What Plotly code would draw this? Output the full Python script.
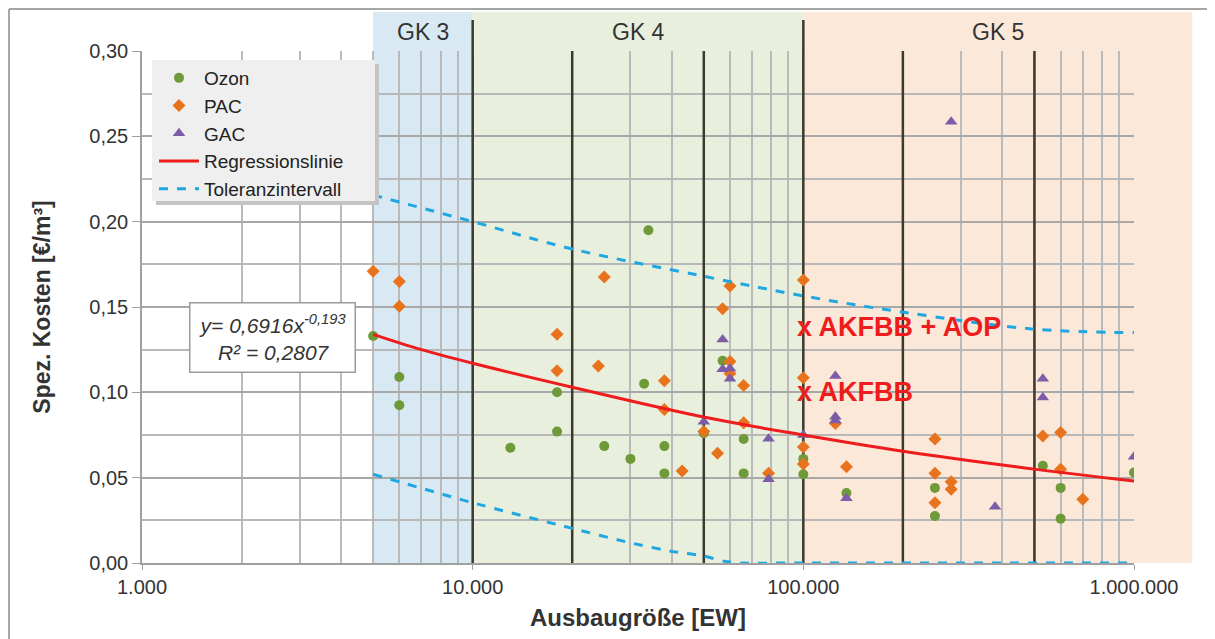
import numpy as np
import plotly.graph_objects as go

# ---------------- data ----------------
ozon_x = [5000, 6000, 6000, 13000, 18000, 18000, 25000, 30000, 33000, 34000, 38000, 38000,
          50000, 57000, 66000, 66000, 100000, 100000, 135000, 250000, 250000, 530000,
          600000, 600000, 1000000]
ozon_y = [0.133, 0.109, 0.0925, 0.0675, 0.100, 0.077, 0.0685, 0.061, 0.105, 0.195, 0.0685, 0.0525,
          0.076, 0.1185, 0.0727, 0.0525, 0.061, 0.052, 0.041, 0.044, 0.0275, 0.057,
          0.044, 0.026, 0.053]

pac_x = [5000, 6000, 6000, 18000, 18000, 24000, 25000, 38000, 38000, 43000, 50000, 55000,
         57000, 60000, 60000, 60000, 66000, 66000, 78500, 100000, 100000, 100000, 100000,
         125000, 135000, 250000, 250000, 250000, 280000, 280000, 530000, 600000, 600000, 700000]
pac_y = [0.171, 0.165, 0.1505, 0.134, 0.1127, 0.1154, 0.1676, 0.1068, 0.090, 0.0539, 0.077, 0.0643,
         0.149, 0.1623, 0.118, 0.111, 0.104, 0.0822, 0.0526, 0.1658, 0.1086, 0.068, 0.058,
         0.0818, 0.0564, 0.0727, 0.0526, 0.0353, 0.0476, 0.0432, 0.0744, 0.0764, 0.0549, 0.0373]

gac_x = [50000, 57000, 57000, 60000, 60000, 78500, 78500, 100000, 125000, 125000, 125000,
         135000, 280000, 380000, 530000, 530000, 1000000]
gac_y = [0.0828, 0.131, 0.1135, 0.114, 0.108, 0.0728, 0.049, 0.075, 0.1096, 0.0857, 0.0835,
         0.038, 0.2586, 0.033, 0.108, 0.097, 0.0623]

reg_x = [5000, 7000, 10000, 20000, 50000, 100000, 200000, 500000, 1000000]
reg_y = [0.134, 0.125, 0.117, 0.103, 0.0855, 0.075, 0.0655, 0.055, 0.048]

tol_up_x = [5000, 10000, 20000, 50000, 100000, 200000, 500000, 1000000]
tol_up_y = [0.2156, 0.200, 0.184, 0.168, 0.1565, 0.147, 0.137, 0.135]

tol_lo_x = [5000, 10000, 20000, 30000, 40000, 50000, 58000, 65000, 100000, 1000000]
tol_lo_y = [0.052, 0.0353, 0.0203, 0.0118, 0.0068, 0.0041, 0.0009, 0.0, 0.0, 0.0]

x_tick_vals = [1000, 10000, 100000, 1000000]
x_tick_text = ["1.000", "10.000", "100.000", "1.000.000"]
y_tick_vals = [0.0, 0.05, 0.10, 0.15, 0.20, 0.25, 0.30]

gk_names = ["GK 3", "GK 4", "GK 5"]
gk_bounds = [5000, 10000, 100000, 1500000]
gk_colors = ["#d8e9f4", "#e9efdd", "#fce8d9"]
thick_lines = [10000, 20000, 50000, 100000, 200000, 500000]
tall_lines = [10000, 100000]

# ---------------- layout constants ----------------
X_LOG_MIN, X_LOG_MAX = 3, 6
PLOT_L, PLOT_R, PLOT_T, PLOT_B = 142, 1134, 51, 563   # target pixel box of the plot area
PW, PH = PLOT_R - PLOT_L, PLOT_B - PLOT_T

def xp(v):
    return (np.log10(v) - X_LOG_MIN) / (X_LOG_MAX - X_LOG_MIN)

def px2x(px):
    return (px - PLOT_L) / PW

def px2y(py):
    return (PLOT_B - py) / PH

FONT = "Liberation Sans, Arial, sans-serif"
TOP_PAPER = px2y(12)

fig = go.Figure()

fig.add_trace(go.Scatter(x=ozon_x, y=ozon_y, mode="markers", name="Ozon",
                         marker=dict(symbol="circle", size=10, color="#6e9a3a")))
fig.add_trace(go.Scatter(x=pac_x, y=pac_y, mode="markers", name="PAC",
                         marker=dict(symbol="diamond", size=10, color="#e8731c")))
fig.add_trace(go.Scatter(x=gac_x, y=gac_y, mode="markers", name="GAC",
                         marker=dict(symbol="triangle-up", size=11, color="#7b5ea7")))
fig.add_trace(go.Scatter(x=reg_x, y=reg_y, mode="lines", name="Regressionslinie",
                         line=dict(color="#ee1c1c", width=3, shape="spline")))
fig.add_trace(go.Scatter(x=tol_up_x, y=tol_up_y, mode="lines", name="Toleranzintervall",
                         line=dict(color="#1ea7e1", width=3, dash="dash", shape="spline")))
fig.add_trace(go.Scatter(x=tol_lo_x, y=tol_lo_y, mode="lines", name="Toleranzintervall",
                         showlegend=False,
                         line=dict(color="#1ea7e1", width=3, dash="dash", shape="spline", smoothing=0.6)))

shapes = []
# group backgrounds
for i in range(len(gk_names)):
    shapes.append(dict(type="rect", xref="paper", yref="paper",
                       x0=xp(gk_bounds[i]), x1=xp(gk_bounds[i + 1]), y0=0, y1=TOP_PAPER,
                       fillcolor=gk_colors[i], line=dict(width=0), layer="below"))
# thick dark vertical lines
for v in thick_lines:
    shapes.append(dict(type="line", xref="x", yref="y", x0=v, x1=v, y0=0, y1=0.30,
                       line=dict(color="#3b3a2c", width=2.5), layer="between"))
for v in tall_lines:
    shapes.append(dict(type="line", xref="paper", yref="paper", x0=xp(v), x1=xp(v), y0=1.0, y1=px2y(20),
                       line=dict(color="#3b3a2c", width=2.5), layer="below"))
# outer frame (left and top)
shapes.append(dict(type="line", xref="paper", yref="paper", x0=px2x(9), x1=px2x(9), y0=px2y(660), y1=px2y(9),
                   line=dict(color="#a6a6a6", width=2)))
shapes.append(dict(type="line", xref="paper", yref="paper", x0=px2x(9), x1=px2x(1230), y0=px2y(9), y1=px2y(9),
                   line=dict(color="#a6a6a6", width=2)))
# legend box with shadow
shapes.append(dict(type="rect", xref="paper", yref="paper", x0=px2x(156), x1=px2x(379),
                   y0=px2y(205), y1=px2y(64), fillcolor="#c4c4c4", line=dict(width=0), layer="above"))
shapes.append(dict(type="rect", xref="paper", yref="paper", x0=px2x(152), x1=px2x(375),
                   y0=px2y(201), y1=px2y(60), fillcolor="#efefef", line=dict(width=0), layer="above"))

annotations = []
for i, name in enumerate(gk_names):
    cx = (np.log10(gk_bounds[i]) + np.log10(gk_bounds[i + 1])) / 2
    annotations.append(dict(x=(cx - X_LOG_MIN) / (X_LOG_MAX - X_LOG_MIN), y=px2y(32),
                            xref="paper", yref="paper", xanchor="center", yanchor="middle",
                            text=name, showarrow=False,
                            font=dict(family=FONT, size=23, color="#333333")))
annotations.append(dict(x=5, y=0.138, xref="x", yref="y", xanchor="left", yanchor="middle", xshift=-8,
                        text="<b>x AKFBB + AOP</b>", showarrow=False,
                        font=dict(family=FONT, size=27, color="#ee1c1c")))
annotations.append(dict(x=5, y=0.100, xref="x", yref="y", xanchor="left", yanchor="middle", xshift=-8,
                        text="<b>x AKFBB</b>", showarrow=False,
                        font=dict(family=FONT, size=27, color="#ee1c1c")))
annotations.append(dict(x=px2x(272), y=px2y(337), xref="paper", yref="paper",
                        xanchor="center", yanchor="middle",
                        text="<i>y= 0,6916x<sup>-0,193</sup></i><br><i>R² = 0,2807</i>",
                        showarrow=False, align="center", width=162, height=66,
                        bgcolor="white", bordercolor="#9a9a9a", borderwidth=1.5,
                        font=dict(family=FONT, size=21, color="#333333")))

fig.update_layout(
    # the page body adds an 8 px margin, so the figure is shrunk by that amount
    width=1207, height=631,
    margin=dict(l=PLOT_L - 8, r=1215 - PLOT_R, t=PLOT_T - 8, b=639 - PLOT_B),
    paper_bgcolor="white", plot_bgcolor="white",
    separators=",.",
    font=dict(family=FONT, size=20, color="#333333"),
    shapes=shapes, annotations=annotations,
    legend=dict(x=px2x(154), y=px2y(59), xanchor="left", yanchor="top",
                bgcolor="rgba(0,0,0,0)", borderwidth=0, font=dict(size=19, color="#222222"),
                tracegroupgap=0, itemwidth=40),
    xaxis=dict(type="log", range=[X_LOG_MIN, X_LOG_MAX], tickvals=x_tick_vals, ticktext=x_tick_text,
               showgrid=True, gridcolor="#acacac", gridwidth=1.5,
               minor=dict(dtick="D1", showgrid=True, gridcolor="#bababa", gridwidth=1.5),
               showline=True, linecolor="#a0a0a0", linewidth=1.5,
               ticks="outside", ticklen=5, tickcolor="#a0a0a0",
               title=dict(text="<b>Ausbaugröße [EW]</b>", font=dict(size=24), standoff=12),
               zeroline=False),
    yaxis=dict(range=[0, 0.30], tickvals=y_tick_vals, tickformat=".2f",
               showgrid=True, gridcolor="#a8a8a8", gridwidth=1.5,
               minor=dict(dtick=0.025, showgrid=True, gridcolor="#b8b8b8", gridwidth=1.5),
               showline=True, linecolor="#a0a0a0", linewidth=1.5,
               ticks="outside", ticklen=8, tickcolor="#a0a0a0",
               title=dict(text="<b>Spez. Kosten [€/m³]</b>", font=dict(size=23), standoff=32),
               zeroline=False),
)

fig.write_html("out.html")
